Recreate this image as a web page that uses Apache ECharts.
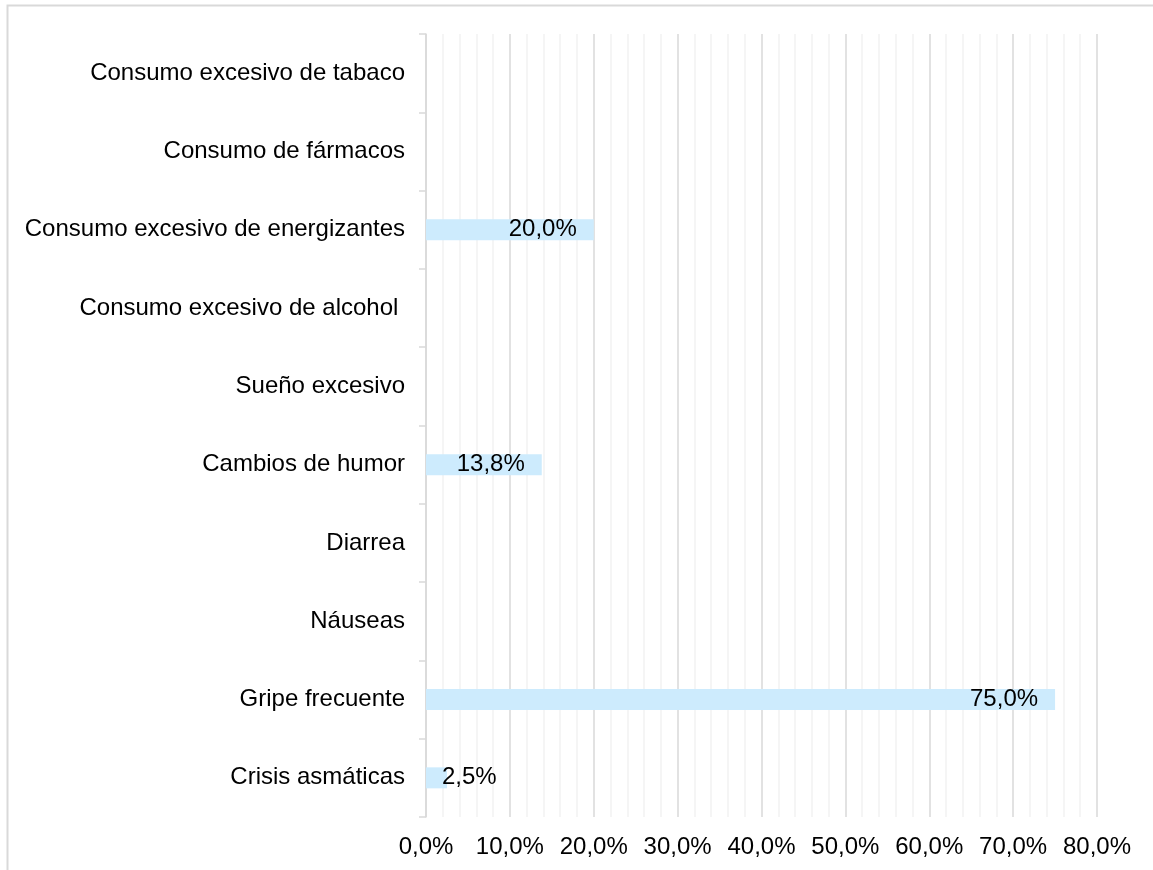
<!DOCTYPE html>
<html>
<head>
<meta charset="utf-8">
<script src="https://cdn.jsdelivr.net/npm/echarts@6/dist/echarts.min.js"></script>
<style>
html,body{margin:0;padding:0;background:#fff;}
#chart{width:1153px;height:870px;}
</style>
</head>
<body>
<div id="chart"></div>
<script>
// Categories bottom to top
const categories = [
  'Crisis asmáticas',
  'Gripe frecuente',
  'Náuseas',
  'Diarrea',
  'Cambios de humor',
  'Sueño excesivo',
  'Consumo excesivo de alcohol ',
  'Consumo excesivo de energizantes',
  'Consumo de fármacos',
  'Consumo excesivo de tabaco'
];
const values = [2.5, 75.0, 0, 0, 13.8, 0, 0, 20.0, 0, 0];
const xTicks = [0, 10, 20, 30, 40, 50, 60, 70, 80];

const FONT = 'Liberation Sans, Arial, sans-serif';
const FS = 24;

function fmt(v){ return v.toFixed(1).replace('.', ',') + '%'; }

const seriesData = values.map(function(v){
  const item = { value: v };
  if (v === 0) {
    item.label = { show: false };
  } else if (v < 5) {
    item.label = { show: true, position: 'insideLeft', distance: 16 };
  }
  return item;
});

const chart = echarts.init(document.getElementById('chart'), null, {renderer: 'canvas'});
chart.setOption({
  animation: false,
  backgroundColor: '#ffffff',
  graphic: [{
    type: 'rect',
    shape: { x: 7.5, y: 5.5, width: 1300, height: 1000 },
    style: { fill: 'none', stroke: '#d9d9d9', lineWidth: 2 },
    silent: true
  }],
  grid: { left: 426, right: 56, top: 34, bottom: 53, containLabel: false },
  xAxis: {
    type: 'value',
    min: xTicks[0],
    max: xTicks[xTicks.length - 1],
    interval: 10,
    axisLine: { show: false },
    axisTick: { show: false },
    axisLabel: {
      color: '#000', fontFamily: FONT, fontSize: FS, margin: 18,
      formatter: function(v){ return fmt(v); }
    },
    splitLine: { show: true, lineStyle: { color: '#d9d9d9', width: 1.5 } },
    minorTick: { show: false, splitNumber: 5 },
    minorSplitLine: { show: true, lineStyle: { color: '#f2f2f2', width: 1.5 } }
  },
  yAxis: {
    type: 'category',
    data: categories,
    axisLine: { show: true, lineStyle: { color: '#d9d9d9', width: 1.5 } },
    axisTick: { show: true, length: 7, lineStyle: { color: '#d9d9d9', width: 1.5 } },
    axisLabel: { color: '#000', fontFamily: FONT, fontSize: FS, margin: 21 },
    splitLine: { show: false }
  },
  series: [{
    type: 'bar',
    data: seriesData,
    barWidth: 21,
    itemStyle: { color: '#cdebfd' },
    label: {
      show: true,
      position: 'insideRight',
      distance: 17,
      color: '#000',
      fontFamily: FONT,
      fontSize: FS,
      formatter: function(p){ return fmt(p.value); }
    }
  }]
});
</script>
</body>
</html>
